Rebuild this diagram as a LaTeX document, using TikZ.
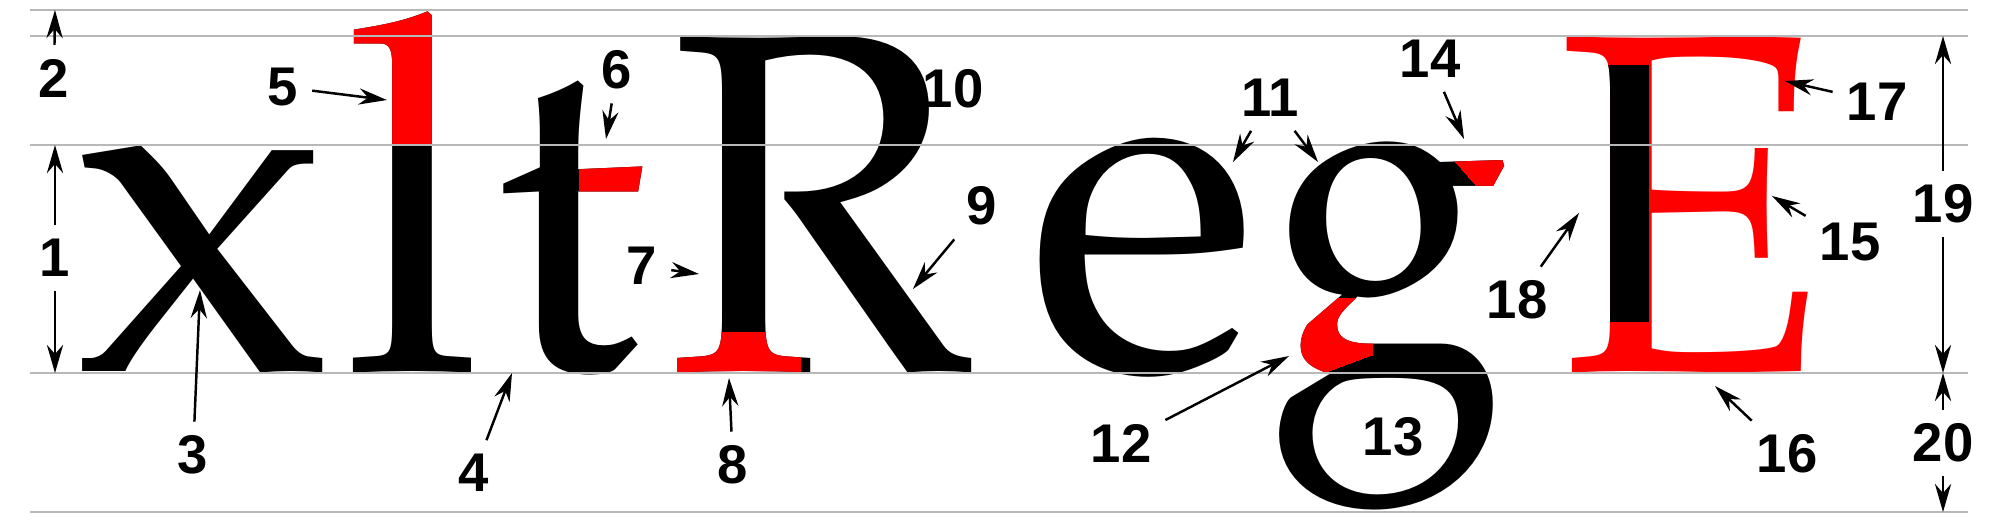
\documentclass[tikz,border=0pt]{standalone}
\usepackage{fontspec}
\usepackage{graphicx}
\usetikzlibrary{arrows.meta}

\IfFontExistsTF{texgyrepagella-regular.otf}
  {\newfontfamily\lettfont{texgyrepagella-regular.otf}}
  {\newfontfamily\lettfont{Liberation Serif}}
\newfontfamily\numfont{Liberation Sans}
\definecolor{guide}{HTML}{B8B8B8}
\definecolor{partred}{HTML}{FF0000}

% ink bounds of a glyph of \lettfont at 100pt
\newlength\glL \newlength\glR \newlength\glT \newlength\glB \newlength\glW
\newcommand\measureglyph[1]{%
  \begingroup
  \lettfont\fontsize{100}{100}\selectfont
  \count255=\XeTeXcharglyph`#1\relax
  \glL=\XeTeXglyphbounds1 \count255
  \glT=\XeTeXglyphbounds2 \count255
  \glR=\XeTeXglyphbounds3 \count255
  \glB=\XeTeXglyphbounds4 \count255
  \setbox0\hbox{#1}%
  \glW=\dimexpr\wd0-\glL-\glR\relax
  \glB=\dimexpr\glT+\glB\relax
  \expandafter\xdef\csname gmL#1\endcsname{\the\glL}%
  \expandafter\xdef\csname gmT#1\endcsname{\the\glT}%
  \expandafter\xdef\csname gmW#1\endcsname{\the\glW}%
  \expandafter\xdef\csname gmH#1\endcsname{\the\glB}%
  \endgroup}

% glyph scaled so that its ink fills the box (left,top)-(right,bottom), in px
\newcommand\glyphbox[7]{%
  \begingroup
  \edef\gL{\csname gmL#1\endcsname}\edef\gT{\csname gmT#1\endcsname}%
  \edef\gW{\csname gmW#1\endcsname}\edef\gH{\csname gmH#1\endcsname}%
  \pgfmathsetmacro\sx{(#4-#2)*0.284528/\gW}%
  \pgfmathsetmacro\sy{(#5-#3)*0.284528/\gH}%
  \pgfmathsetmacro\px{#2*0.284528-\sx*\gL}%
  \pgfmathsetmacro\py{-#3*0.284528-\sy*\gT}%
  \node[inner sep=0pt,anchor=base west,text=#6,name=#7] at (\px pt,\py pt)
    {\scalebox{\sx}[\sy]{\lettfont\fontsize{100}{100}\selectfont #1}};
  \endgroup}

\begin{document}
\measureglyph{x}\measureglyph{l}\measureglyph{t}\measureglyph{R}%
\measureglyph{e}\measureglyph{g}\measureglyph{E}%
\begin{tikzpicture}[x=0.01cm,y=-0.01cm,
    pointer/.style={-{Stealth[length=8pt,width=4.6pt,inset=2.6pt]},line width=0.7pt},
    num/.style={font=\numfont\bfseries\fontsize{15.5}{15.5}\selectfont,
      inner sep=0pt,outer sep=4pt}]
\useasboundingbox (0,0) rectangle (2000,526);

% Letters
\glyphbox{x}{82}{146}{322}{373}{black}{gx}
\glyphbox{l}{353}{12}{471}{373}{black}{gl}
\glyphbox{t}{503}{81}{642}{375}{black}{gt}
\glyphbox{R}{676}{37}{970}{373}{black}{gR}
\glyphbox{e}{1039}{138}{1243}{377}{black}{ge}
\glyphbox{g}{1278}{142}{1503}{510}{black}{gg}
\glyphbox{E}{1565}{37}{1806}{373}{partred}{gE}

% Red parts
\begin{scope}
  \clip (300,0) rectangle (520,145);
  \glyphbox{l}{353}{12}{471}{373}{partred}{glr}
\end{scope}
\begin{scope}
  \clip (579,150) rectangle (700,205);
  \glyphbox{t}{503}{81}{642}{375}{partred}{gtr}
\end{scope}
\begin{scope}
  \clip (650,332) rectangle (800,390);
  \glyphbox{R}{676}{37}{970}{373}{partred}{gRr}
\end{scope}
\begin{scope}
  \clip (1427,130) -- (1515,130) -- (1515,195) -- (1484,195) -- cycle;
  \glyphbox{g}{1278}{142}{1503}{510}{partred}{ggr}
\end{scope}
\begin{scope}
  \clip (1255,298) -- (1372,298) -- (1372,355) -- (1288,386) -- (1255,398) -- cycle;
  \glyphbox{g}{1278}{142}{1503}{510}{partred}{ggl}
\end{scope}
\begin{scope}
  \clip (1598,65) rectangle (1648,321);
  \glyphbox{E}{1565}{37}{1806}{373}{black}{gEs}
\end{scope}

% Guide lines
\foreach \y in {10,36,145,373,512}
  \draw[guide,line width=0.6pt] (30,\y) -- (1968,\y);

% Targets
\coordinate (asc) at (55,10);
\coordinate (xtop) at (55,145);
\coordinate (xbase) at (55,373);
\coordinate (p3) at (200,290);
\coordinate (p4) at (512,373);
\coordinate (p5) at (387,100);
\coordinate (p6) at (606,139);
\coordinate (p7) at (699,274);
\coordinate (p8) at (729,378);
\coordinate (p9) at (913,289);
\coordinate (p11a) at (1233,162);
\coordinate (p11b) at (1318,162);
\coordinate (p12) at (1289,356);
\coordinate (p14) at (1464,139);
\coordinate (p15) at (1772,196);
\coordinate (p16) at (1715,386);
\coordinate (p17) at (1785,81);
\coordinate (p18) at (1579,213);
\coordinate (captop) at (1943,36);
\coordinate (capbase) at (1943,373);
\coordinate (desc) at (1943,512);

% Numbers
\node[num] (n1) at (55,258) {1};
\node[num] (n2) at (54,78) {2};
\node[num] (n3) at (193,455) {3};
\node[num] (n4) at (474,473) {4};
\node[num] (n5) at (283,87) {5};
\node[num] (n6) at (617,70) {6};
\node[num] (n7) at (642,266) {7};
\node[num] (n8) at (733,465) {8};
\node[num] (n9) at (982,206) {9};
\node[num] (n10) at (953,89) {10};
\node[num] (n11) at (1270,98) {11};
\node[num] (n12) at (1121,443) {12};
\node[num] (n13) at (1393,437) {13};
\node[num] (n14) at (1430,59) {14};
\node[num] (n15) at (1850,242) {15};
\node[num] (n16) at (1787,454) {16};
\node[num] (n17) at (1877,102) {17};
\node[num] (n18) at (1517,300) {18};
\node[num] (n19) at (1943,204) {19};
\node[num] (n20) at (1943,443) {20};

% Arrows
\draw[pointer] (n1) -- (xtop);
\draw[pointer] (n1) -- (xbase);
\draw[pointer] (n2) -- (asc);
\draw[pointer] (n3) -- (p3);
\draw[pointer] (n4) -- (p4);
\draw[pointer] (n5) -- (p5);
\draw[pointer] (n6) -- (p6);
\draw[pointer] (n7) -- (p7);
\draw[pointer] (n8) -- (p8);
\draw[pointer] (n9) -- (p9);
\draw[pointer] (n11) -- (p11a);
\draw[pointer] (n11) -- (p11b);
\draw[pointer] (n12) -- (p12);
\draw[pointer] (n14) -- (p14);
\draw[pointer] (n15) -- (p15);
\draw[pointer] (n16) -- (p16);
\draw[pointer] (n17) -- (p17);
\draw[pointer] (n18) -- (p18);
\draw[pointer] (n19) -- (captop);
\draw[pointer] (n19) -- (capbase);
\draw[pointer] (n20) -- (capbase);
\draw[pointer] (n20) -- (desc);

\end{tikzpicture}
\end{document}
